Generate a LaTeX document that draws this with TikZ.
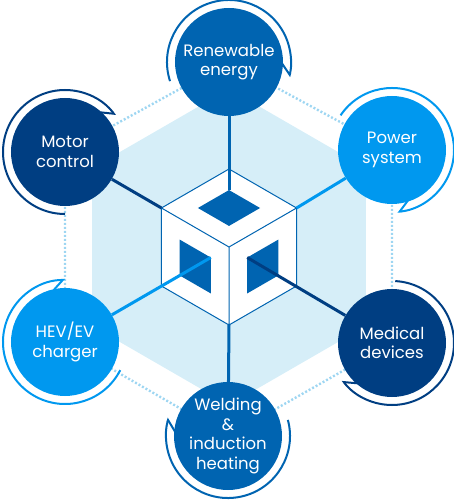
\documentclass[tikz,border=0pt]{standalone}
\usepackage{fontspec}
\setmainfont{Poppins}
\usetikzlibrary{calc, arrows.meta, backgrounds}
\definecolor{xnavy}{HTML}{003E82}
\definecolor{xmid}{HTML}{0064B1}
\definecolor{xbright}{HTML}{0098EF}
\definecolor{xlight}{HTML}{D6EEF8}
\definecolor{xdots}{HTML}{9ED6F2}
\tikzset{
	sector/.style = {circle, fill=#1, minimum size=108pt, inner sep=0pt, text=white, align=center, font=\fontsize{16.5}{19.5}\selectfont},
	spoke/.style = {#1, line width=3pt},
	turn/.style = {#1, line width=2pt, -{Straight Barb[right, length=9pt, width=20pt]}},
	ring/.style = {xdots, line width=2.4pt, dash pattern=on 2pt off 2pt},
	window/.style = {fill=xmid},
}

\begin{document}
\begin{tikzpicture}[x=1pt, y=1pt]
			\useasboundingbox (-229,-253) rectangle (225,247);
			\node[sector=xmid]    (renew)   at (0,185)     {Renewable\\energy};
			\node[sector=xbright] (power)   at (163,97)    {Power\\system};
			\node[sector=xnavy]   (medical) at (163,-96)   {Medical\\devices};
			\node[sector=xmid]    (weld)    at (-1,-189)   {Welding\\\&\\induction\\heating};
			\node[sector=xbright] (hev)     at (-164,-95)  {HEV/EV\\charger};
			\node[sector=xnavy]   (motor)   at (-164,95)   {Motor\\control};
			\draw[turn=xmid]    ([shift={(198:62)}]renew.center)   arc[start angle=198, end angle=-14, radius=62];
			\draw[turn=xbright] ([shift={(146:62)}]power.center)   arc[start angle=146, end angle=-85, radius=62];
			\draw[turn=xnavy]   ([shift={(87:62)}]medical.center)  arc[start angle=87, end angle=-143, radius=62];
			\draw[turn=xmid]    ([shift={(15:62)}]weld.center)     arc[start angle=15, end angle=-197, radius=62];
			\draw[turn=xbright] ([shift={(-27:62)}]hev.center)     arc[start angle=-27, end angle=-270, radius=62];
			\draw[turn=xnavy]   ([shift={(-90:62)}]motor.center)   arc[start angle=-90, end angle=-324, radius=62];
			\begin{scope}[on background layer]
				\fill[xlight] (90:158) -- (150:158) -- (210:158) -- (270:158) -- (330:158) -- (30:158) -- cycle;
				\draw[ring] (renew.center) -- (power.center) -- (medical.center) -- (weld.center) -- (hev.center) -- (motor.center) -- cycle;
				\coordinate (c) at (0,0);
				\foreach \a/\n in {90/t, 30/ur, -30/lr, -90/b, 210/ll, 150/ul}
					\coordinate (\n) at (\a:78);
				\coordinate (ft) at ($(c)!0.5!(t)$);
				\coordinate (fl) at ($(c)!0.5!(ll)$);
				\coordinate (fr) at ($(c)!0.5!(lr)$);
				\fill[white] (t) -- (ur) -- (lr) -- (b) -- (ll) -- (ul) -- cycle;
				\fill[window] ($(ft)!0.46!(c)$) -- ($(ft)!0.46!(ul)$) -- ($(ft)!0.46!(t)$) -- ($(ft)!0.46!(ur)$) -- cycle;
				\fill[window] ($(fl)!0.46!(c)$) -- ($(fl)!0.46!(ul)$) -- ($(fl)!0.46!(ll)$) -- ($(fl)!0.46!(b)$) -- cycle;
				\fill[window] ($(fr)!0.46!(c)$) -- ($(fr)!0.46!(ur)$) -- ($(fr)!0.46!(lr)$) -- ($(fr)!0.46!(b)$) -- cycle;
				\draw[xmid, line width=1pt] (t) -- (ur) -- (lr) -- (b) -- (ll) -- (ul) -- cycle (c) -- (ul) (c) -- (ur) (c) -- (b);
				\draw[spoke=xmid]    ($(ft)!0.46!(t)$) -- (renew);
				\draw[spoke=xbright] (ur) -- (power);
				\draw[spoke=xnavy]   ($(fr)!0.46!(c)$) -- (medical);
				\draw[spoke=xmid]    (b) -- (weld);
				\draw[spoke=xbright] ($(fl)!0.46!(c)$) -- (hev);
				\draw[spoke=xnavy]   (ul) -- (motor);
			\end{scope}
		\end{tikzpicture}
\end{document}
